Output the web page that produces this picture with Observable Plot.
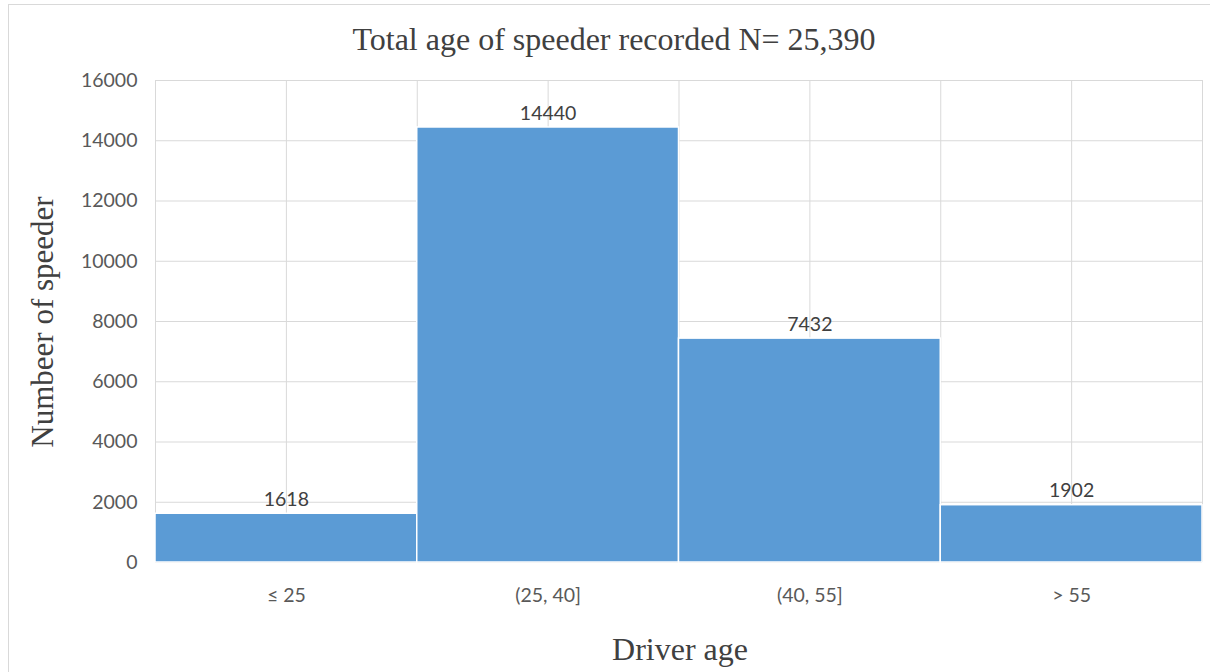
<!DOCTYPE html>
<html>
<head>
<meta charset="utf-8">
<script src="https://cdn.jsdelivr.net/npm/d3@7"></script>
<script src="https://cdn.jsdelivr.net/npm/@observablehq/plot@0.6"></script>
<style>
  body { margin: 0; background: #fff; }
  #wrap { position: relative; width: 1210px; height: 672px; overflow: hidden; background: #fff; }
  #border { position: absolute; left: 8px; top: 4px; width: 1220px; height: 700px; border: 1px solid #d9d9d9; box-sizing: border-box; }
  #chart { position: absolute; left: 0; top: 0; }
  .serif { position: absolute; font-family: "Liberation Serif", "DejaVu Serif", serif; color: #404040; white-space: nowrap; line-height: 1; }
  #title { left: 0; width: 1228px; top: 23px; text-align: center; font-size: 32px; }
  #xlabel { left: 155px; width: 1050px; top: 633px; text-align: center; font-size: 32px; }
  #ylabel { left: 42px; top: 322px; font-size: 31px; transform: translate(-50%, -50%) rotate(-90deg); }
</style>
</head>
<body>
<div id="wrap">
  <div id="border"></div>
  <div id="chart"></div>
  <div id="title" class="serif">Total age of speeder recorded N= 25,390</div>
  <div id="xlabel" class="serif">Driver age</div>
  <div id="ylabel" class="serif">Numbeer of speeder</div>
</div>
<script>
const categories = ["≤ 25", "(25, 40]", "(40, 55]", "> 55"];
const counts = [1618, 14440, 7432, 1902];
const yTicks = [0, 2000, 4000, 6000, 8000, 10000, 12000, 14000, 16000];

const data = categories.map((c, i) => ({category: c, index: i, count: counts[i]}));
const gridX = d3.range(0, categories.length + 0.01, 0.5);

const plot = Plot.plot({
  width: 1210,
  height: 672,
  marginLeft: 155,
  marginRight: 8,
  marginTop: 80,
  marginBottom: 110,
  style: {background: "transparent", fontFamily: "Lato, 'Open Sans', sans-serif"},
  x: {domain: [0, categories.length]},
  y: {domain: [0, 16000]},
  marks: [
    Plot.ruleY(yTicks, {stroke: "#d9d9d9", strokeWidth: 1}),
    Plot.ruleX(gridX, {stroke: "#d9d9d9", strokeWidth: 1}),
    Plot.rectY(data, {x1: d => d.index, x2: d => d.index + 1, y: "count", fill: "#5b9bd5", stroke: "#ffffff", strokeWidth: 1.5}),
    Plot.text(data, {x: d => d.index + 0.5, y: "count", text: d => String(d.count), dy: -14, fontSize: 19.5, fill: "#404040"}),
    Plot.axisY({ticks: yTicks, tickSize: 0, tickPadding: 18, tickFormat: d => String(d), fontSize: 19.5, color: "#595959", label: null}),
    Plot.axisX({ticks: categories.map((c, i) => i + 0.5), tickFormat: (d) => categories[Math.floor(d)], tickSize: 0, tickPadding: 26, fontSize: 19.5, color: "#595959", label: null})
  ]
});
document.getElementById("chart").appendChild(plot);
</script>
</body>
</html>
